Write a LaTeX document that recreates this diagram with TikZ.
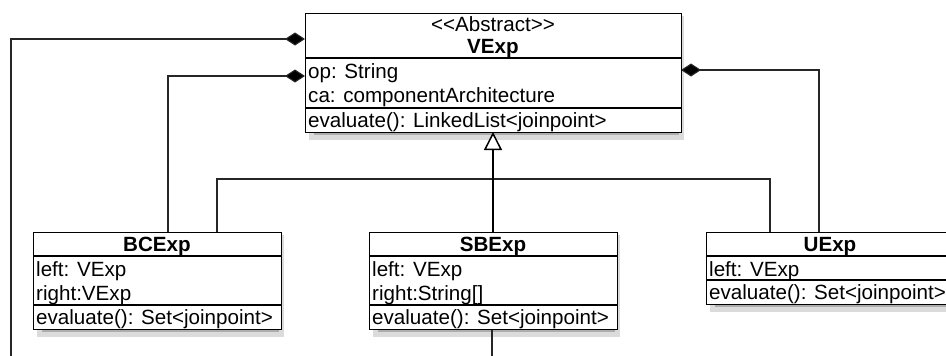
\documentclass[tikz,border=0pt]{standalone}
\usepackage{fontspec}
\setmainfont{Liberation Sans}
\usetikzlibrary{arrows.meta}
\tikzset{
  classbox/.style={draw=black, line width=1.4pt, fill=white, inner sep=0pt, anchor=north west},
  shadowbox/.style={draw=black!14, line width=5pt, fill=black!32, inner sep=0pt, anchor=north west},
  sepline/.style={draw=black, line width=1.2pt},
  txt/.style={inner sep=0pt, anchor=base west, font=\fontsize{20.6}{24}\selectfont},
  ctxt/.style={inner sep=0pt, anchor=base, font=\fontsize{20.6}{24}\selectfont},
  btxt/.style={inner sep=0pt, anchor=base, font=\fontsize{20.6}{24}\selectfont\bfseries},
  conn/.style={draw=black!85, line width=1.1pt},
  comp/.style={conn, -{Diamond[length=20pt,width=13pt,fill=black]}},
  gen/.style={draw=black, line width=1.5pt, -{Triangle[open,length=18pt,width=18pt,fill=white]}},
}
\begin{document}
\begin{tikzpicture}[x=1pt,y=-1pt]
\useasboundingbox (0,0) rectangle (946,356);
\fill[white] (0,0) rectangle (946,356);

% soft drop shadows under the class boxes
\node[shadowbox, minimum width=370pt, minimum height=119pt] (vexpsh) at (309,16) {};
\node[shadowbox, minimum width=242pt, minimum height=97pt] (bcsh) at (37,235) {};
\node[shadowbox, minimum width=242pt, minimum height=97pt] (sbsh) at (373,235) {};
\node[shadowbox, minimum width=242pt, minimum height=72pt] (ush) at (710,235) {};

% named connector points
\coordinate (vA) at (305,39);
\coordinate (vB) at (305,76);
\coordinate (vC) at (681,70);
\coordinate (vBot) at (493,132);
\coordinate (bcTop1) at (168,232);
\coordinate (bcTop2) at (217,232);
\coordinate (sbTop) at (493,232);
\coordinate (sbBot) at (492,329);
\coordinate (uTop1) at (770,232);
\coordinate (uTop2) at (819,232);
\coordinate (jn) at (493,179);
\coordinate (end1) at (11,358);
\coordinate (end2) at (492,358);

% connectors
\draw[comp] (end1) |- (vA);
\draw[comp] (bcTop1) |- (vB);
\draw[comp] (uTop2) |- (vC);
\draw[conn] (bcTop2) |- (jn) -| (uTop1);
\draw[gen] (sbTop) -- (vBot);
\draw[conn] (sbBot) -- (end2);

% VExp
\node[classbox, minimum width=376pt, minimum height=119pt] (vexp) at (305,13) {};
\draw[sepline] (305,58) -- (681,58);
\draw[sepline] (305,108) -- (681,108);
\node[ctxt] (vexpst) at (493,31) {<{}<Abstract>{}>};
\node[btxt] (vexpname) at (493,53) {VExp};
\node[txt] (vexpop) at (308,78) {op: String};
\node[txt] (vexpca) at (308,102) {ca: componentArchitecture};
\node[txt] (vexpev) at (308,127) {evaluate(): LinkedList<joinpoint>};

% BCExp
\node[classbox, minimum width=248pt, minimum height=97pt] (bcexp) at (33,232) {};
\draw[sepline] (33,256) -- (281,256);
\draw[sepline] (33,305) -- (281,305);
\node[btxt] (bcname) at (157,251) {BCExp};
\node[txt] (bcl) at (36,276) {left: VExp};
\node[txt] (bcr) at (36,300) {right:VExp};
\node[txt] (bcev) at (36,324.5) {evaluate(): Set<joinpoint>};

% SBExp
\node[classbox, minimum width=248pt, minimum height=97pt] (sbexp) at (369,232) {};
\draw[sepline] (369,256) -- (617,256);
\draw[sepline] (369,305) -- (617,305);
\node[btxt] (sbname) at (493,251) {SBExp};
\node[txt] (sbl) at (372,276) {left: VExp};
\node[txt] (sbr) at (372,300) {right:String[]};
\node[txt] (sbev) at (372,324.5) {evaluate(): Set<joinpoint>};

% UExp
\node[classbox, minimum width=248pt, minimum height=72pt] (uexp) at (706,232) {};
\draw[sepline] (706,256) -- (954,256);
\draw[sepline] (706,280) -- (954,280);
\node[btxt] (uname) at (830,251) {UExp};
\node[txt] (ul) at (709,276) {left: VExp};
\node[txt] (uev) at (709,299.5) {evaluate(): Set<joinpoint>};
\end{tikzpicture}
\end{document}
